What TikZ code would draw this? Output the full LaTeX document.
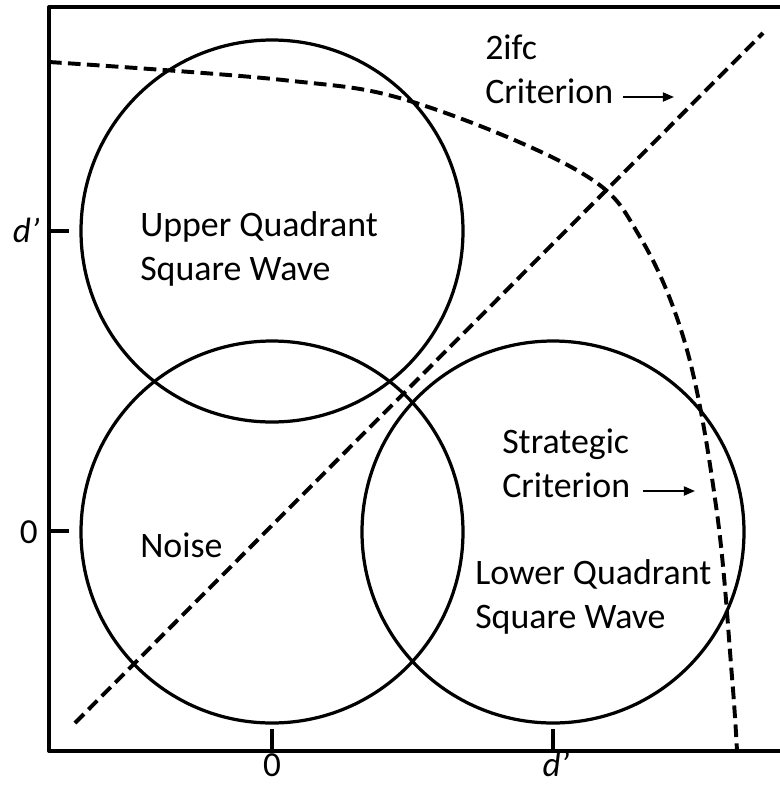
\documentclass[tikz,border=0pt]{standalone}
\usepackage{fontspec}
\setmainfont{Carlito}
\usetikzlibrary{arrows.meta}

\begin{document}
\begin{tikzpicture}[x=0.025cm, y=-0.025cm, line join=round,
    axis/.style={line width=2.8pt},
    blob/.style={line width=2.3pt},
    crit/.style={line width=2.8pt, dash pattern=on 9pt off 4.5pt},
    pointer/.style={line width=1.4pt, -{Triangle[length=8pt, width=6.5pt]}},
    lbl/.style={font=\fontsize{25.5}{31}\selectfont, align=left, inner sep=0pt, anchor=base west},
    tick/.style={font=\fontsize{25}{30}\selectfont, inner sep=0pt}]
    \useasboundingbox (0,0) rectangle (780,785);
    \coordinate (TL) at (49,7);
    \coordinate (TR) at (780,7);
    \coordinate (O) at (49,751);
    \coordinate (BR) at (780,751);
    \draw[axis] (TR) -- (TL) -- (O) -- (BR);
    % ticks
    \draw[axis] (49,231) -- (69,231);
    \draw[axis] (49,531) -- (69,531);
    \draw[axis] (272,751) -- (272,729);
    \draw[axis] (553,751) -- (553,729);
    \node[tick, anchor=base east] (yd) at (40,242) {\textit{d'}};
    \node[tick, anchor=base east] (y0) at (38,543) {0};
    \node[tick, anchor=base] (x0) at (272,776) {0};
    \node[tick, anchor=base] (xd) at (556,776) {\textit{d'}};
    % distributions
    \draw[blob] (272,231) circle (191);
    \draw[blob] (272,532) circle (191);
    \draw[blob] (553,532) circle (191);
    % criteria
    \draw[crit] (75,723) -- (763,33);
    \draw[crit] plot[smooth, tension=0.6] coordinates {(49,62) (283,80) (413,102) (580,172) (640,237) (687,350) (717,513) (732,677) (737,751)};
    \node[lbl] (upper) at (140,280) {Upper Quadrant\\Square Wave};
    \node[lbl] (noise) at (140,557) {Noise};
    \node[lbl] (lower) at (475,628) {Lower Quadrant\\Square Wave};
    \node[lbl] (strat) at (502,497) {Strategic\\Criterion};
    \node[lbl] (twoifc) at (485,103) {2ifc\\Criterion};
    \coordinate (p1) at (623,97);
    \coordinate (p2) at (674,97);
    \coordinate (q1) at (643,491);
    \coordinate (q2) at (695,491);
    \draw[pointer] (p1) -- (p2);
    \draw[pointer] (q1) -- (q2);
\end{tikzpicture}
\end{document}
